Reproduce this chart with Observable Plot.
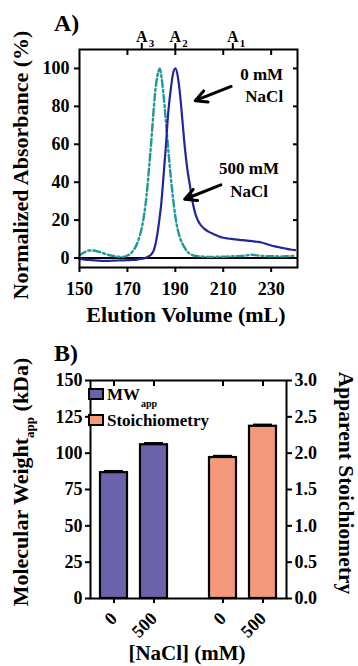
<!DOCTYPE html>
<html><head><meta charset="utf-8">
<script src="https://cdn.jsdelivr.net/npm/d3@7"></script>
<script src="https://cdn.jsdelivr.net/npm/@observablehq/plot@0.6"></script>
<style>
html,body{margin:0;padding:0;background:#fff;}
#root{position:relative;width:358px;height:666px;overflow:hidden;}
#root > svg{position:absolute;left:0;}
</style></head><body><div id="root"></div>
<script>
// ---------- Panel A data ----------
const elutionVolume = [150,152,154,156,158,160,162,164,166,168,170,172,174,175,176,177,178,179,180,181,182,183,183.5,184,185,186,187,188,189,190,191,192,193,194,195,196,197,198,199,200,202,204,206,208,210,212,214,216,218,220,222,224,226,228,230,232,234,236,238,240];
const absorbance0mM = [-0.5,-0.8,-1,-1.2,-1.4,-1.5,-1.5,-1.4,-1.3,-1.2,-1.1,-1.0,-0.8,-0.6,-0.4,-0.2,0.3,1,2,4,9,17,22,27,42,58,76,88,97,100,96,86,72,58,47,39,31,25,21,18.5,15.5,13.8,12.6,11.5,10.7,10.3,10,9.7,9.4,9.2,8.9,8.6,8.2,7.4,6.6,6,5.5,5,4.5,4.2];
const absorbance500mM = [1.5,3,4,4,3.3,2.5,1.7,1.1,0.7,0.6,1.3,3.2,7.5,11,16,23,33,47,62,79,92,98.5,100,97.5,87,73,58,44,32,22,15,10.5,7.5,5.2,3.5,2.3,1.6,1.2,1,0.9,0.7,0.6,0.6,0.7,0.7,0.8,0.9,1,1.1,1.4,1.7,1.4,1.1,1,0.9,0.9,0.8,0.9,1,1.2];
const xTicksA = [150,170,190,210,230];
const yTicksA = [0,20,40,60,80,100];
const peakVolume = [176,190,214];
const peakSub = ["3","2","1"];
const noteText = ["0 mM\nNaCl","500 mM\nNaCl"];
const noteX = [235,220.8], noteY = [92,42];
const arrowFromX = [213.3,209], arrowFromY = [90.5,38.6];
const arrowToX = [198.3,193.9], arrowToY = [83,31];

// ---------- Panel B data ----------
const groups = ["MW","Stoich"];
const saltLevels = ["0","500"];
const mwApp = [86.6,105.8], mwErr = [1.0,1.0];
const stoichiometry = [1.94,2.37], stoichErr = [0.02,0.02];
const kDaPerUnit = 50; // right axis: stoichiometry = MW / 50 kDa
const yTicksB = [0,25,50,75,100,125,150];

const purple = "#6a63aa", orange = "#f4997c";
const navy = "#25259b", teal = "#1f9898";
const font = "'Liberation Serif','Times New Roman',serif";

const bars = [
  ...saltLevels.map((s,i)=>({group:"MW", salt:s, value:mwApp[i], err:mwErr[i]})),
  ...saltLevels.map((s,i)=>({group:"Stoich", salt:s, value:stoichiometry[i]*kDaPerUnit, err:stoichErr[i]*kDaPerUnit}))
];

const root = document.getElementById("root");
const baseStyle = {fontFamily: font, fontWeight: "bold", fontSize: "18px", color: "#000", overflow: "visible", background: "none"};

const plotA = Plot.plot({
  width: 358, height: 300,
  marginLeft: 79, marginRight: 61, marginTop: 49, marginBottom: 33,
  style: baseStyle,
  x: {domain: [150, 241]},
  y: {domain: [-5, 110]},
  marks: [
    Plot.ruleY([0], {stroke: "#000", strokeWidth: 2}),
    Plot.line(elutionVolume, {x: elutionVolume, y: absorbance500mM, stroke: teal, strokeWidth: 2.4, strokeDasharray: "7,3,2,3", curve: "monotone-x"}),
    Plot.line(elutionVolume, {x: elutionVolume, y: absorbance0mM, stroke: navy, strokeWidth: 2.2, curve: "monotone-x"}),
    Plot.axisY({anchor: "left", ticks: yTicksA, tickSize: 5, tickPadding: 5, strokeWidth: 2, label: null, fontSize: 18}),
    Plot.axisY({anchor: "right", ticks: yTicksA, tickSize: -5, strokeWidth: 2, tickFormat: () => "", label: null}),
    Plot.axisX({anchor: "bottom", ticks: xTicksA, tickSize: 5, tickPadding: 10, strokeWidth: 2, label: null, fontSize: 18}),
    Plot.axisX({anchor: "top", ticks: xTicksA.slice(1), tickSize: -5, strokeWidth: 2, tickFormat: () => "", label: null}),
    Plot.axisX(peakVolume, {anchor: "top", tickSize: 7, strokeWidth: 2, tickFormat: () => "", label: null}),
    Plot.text(peakVolume, {x: d => d, frameAnchor: "top", dy: -18.5, text: () => "A", fontSize: 16}),
    Plot.text(peakVolume, {x: d => d, frameAnchor: "top", dy: -10, dx: 7, text: (d, i) => peakSub[i], fontSize: 11, textAnchor: "start"}),
    Plot.text([noteText[0]], {x: [noteX[0]], y: [noteY[0]], text: d => d, fontSize: 17, lineHeight: 1.3, textAnchor: "end"}),
    Plot.text([noteText[1]], {x: [noteX[1]], y: [noteY[1]], text: d => d, fontSize: 17, lineHeight: 1.3, textAnchor: "middle"}),
    Plot.arrow(noteText, {x1: arrowFromX, y1: arrowFromY, x2: arrowToX, y2: arrowToY, stroke: "#000", strokeWidth: 3, headLength: 12, headAngle: 55}),
    Plot.frame({stroke: "#000", strokeWidth: 2})
  ]
});
plotA.style.top = "0px";
root.appendChild(plotA);

const plotB = Plot.plot({
  width: 358, height: 336,
  marginLeft: 78, marginRight: 59, marginTop: 50, marginBottom: 68,
  style: baseStyle,
  fx: {domain: groups, paddingInner: 0.2, paddingOuter: 0.11, axis: null, label: null},
  x: {domain: saltLevels, paddingInner: 0.317, paddingOuter: 0.23, label: null},
  y: {domain: [0, 150], label: null},
  color: {domain: groups, range: [purple, orange]},
  marks: [
    Plot.barY(bars, {fx: "group", x: "salt", y: "value", fill: "group", stroke: "#000", strokeWidth: 2.2}),
    Plot.ruleX(bars, {fx: "group", x: "salt", y1: "value", y2: d => d.value + d.err, stroke: "#000", strokeWidth: 2}),
    Plot.tickY(bars, {fx: "group", x: "salt", y: d => d.value + d.err, stroke: "#000", strokeWidth: 2.5, inset: 4}),
    Plot.axisY({anchor: "left", ticks: yTicksB, tickSize: 5, tickPadding: 3, strokeWidth: 2, label: null, fontSize: 18}),
    Plot.axisY({anchor: "right", ticks: yTicksB, tickSize: 5, tickPadding: 3, strokeWidth: 2, label: null, fontSize: 18, tickFormat: d => (d / kDaPerUnit).toFixed(1)}),
    Plot.axisX({anchor: "bottom", tickSize: 5, tickPadding: 12, strokeWidth: 2, tickRotate: -45, label: null, fontSize: 18}),
    Plot.axisX({anchor: "top", tickSize: -5, strokeWidth: 2, tickFormat: () => "", label: null}),
    Plot.frame({facet: "super", stroke: "#000", strokeWidth: 2})
  ]
});
plotB.style.top = "330px";
root.appendChild(plotB);

// ---------- titles, panel letters and legend ----------
const ov = d3.select(root).append("svg")
  .attr("width", 358).attr("height", 666)
  .style("top", "0px").style("pointer-events", "none")
  .attr("font-family", font).attr("font-weight", "bold").attr("fill", "#000");

ov.append("text").attr("x", 54).attr("y", 31).attr("font-size", 24).text("A)");
ov.append("text").attr("x", 54).attr("y", 361).attr("font-size", 24).text("B)");

ov.append("text").attr("transform", "translate(28,165) rotate(-90)").attr("text-anchor", "middle").attr("font-size", 22).text("Normalized Absorbance (%)");
ov.append("text").attr("x", 186).attr("y", 322).attr("text-anchor", "middle").attr("font-size", 22).text("Elution Volume (mL)");

const lb = ov.append("text").attr("transform", "translate(28,482) rotate(-90)").attr("text-anchor", "middle").attr("font-size", 22);
lb.append("tspan").text("Molecular Weight");
lb.append("tspan").attr("font-size", 13).attr("dy", 6).text("app");
lb.append("tspan").attr("dy", -6).text(" (kDa)");

ov.append("text").attr("transform", "translate(339,483) rotate(90)").attr("text-anchor", "middle").attr("font-size", 21.5).text("Apparent Stoichiometry");
ov.append("text").attr("x", 187).attr("y", 660).attr("text-anchor", "middle").attr("font-size", 21).text("[NaCl] (mM)");

// legend
const legendItems = [{key: "MW", color: purple}, {key: "Stoichiometry", color: orange}];
legendItems.forEach((it, i) => {
  const y0 = 389 + i * 26;
  ov.append("rect").attr("x", 89).attr("y", y0).attr("width", 14).attr("height", 10)
    .attr("fill", it.color).attr("stroke", "#000").attr("stroke-width", 2);
  const t = ov.append("text").attr("x", 107).attr("y", y0 + 11).attr("font-size", 17);
  t.append("tspan").text(it.key);
  if (i === 0) t.append("tspan").attr("font-size", 10).attr("dy", 7).attr("dx", 1).text("app");
});
</script></body></html>
